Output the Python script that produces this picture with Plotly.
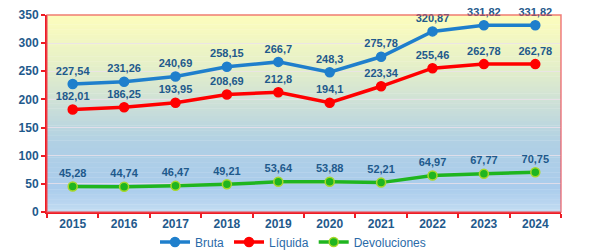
import plotly.graph_objects as go

# Data
years = ['2015', '2016', '2017', '2018', '2019', '2020', '2021', '2022', '2023', '2024']
bruta = [227.54, 231.26, 240.69, 258.15, 266.7, 248.3, 275.78, 320.87, 331.82, 331.82]
liquida = [182.01, 186.25, 193.95, 208.69, 212.8, 194.1, 223.34, 255.46, 262.78, 262.78]
devoluciones = [45.28, 44.74, 46.47, 49.21, 53.64, 53.88, 52.21, 64.97, 67.77, 70.75]


def fmt(v):
    return f"{v:g}".replace('.', ',')


LABEL_FONT = dict(family='Liberation Sans, Arial', size=11, color='#1f5a8c')

fig = go.Figure()

series = [
    ('Bruta', bruta, '#1f7fcc', '#1f7fcc'),
    ('Líquida', liquida, '#ff0000', '#ff0000'),
    ('Devoluciones', devoluciones, '#1fb51f', '#a8d82a'),
]
for name, vals, col, edge in series:
    fig.add_trace(go.Scatter(
        x=years, y=vals, name=name,
        mode='lines+markers+text',
        line=dict(color=col, width=3.5),
        marker=dict(size=9, color=col, line=dict(color=edge, width=1.5)),
        text=[fmt(v) for v in vals],
        textposition='top center',
        textfont=dict(LABEL_FONT, weight='bold'),
        cliponaxis=False,
    ))

# Gradient background of the plot area (yellow on top, blue below)
stops = [
    (0.0, (195, 220, 242)),
    (0.12, (170, 204, 236)),
    (0.35, (176, 208, 228)),
    (0.55, (205, 224, 215)),
    (0.75, (230, 240, 200)),
    (1.0, (253, 253, 188)),
]


def grad(t):
    for (t0, c0), (t1, c1) in zip(stops, stops[1:]):
        if t <= t1:
            f = (t - t0) / (t1 - t0)
            return 'rgb(%d,%d,%d)' % tuple(round(a + (b - a) * f) for a, b in zip(c0, c1))
    return 'rgb(%d,%d,%d)' % stops[-1][1]


n = 80
shapes = []
for i in range(n):
    shapes.append(dict(
        type='rect', xref='x domain', yref='y domain',
        x0=0, x1=1, y0=i / n, y1=(i + 1) / n + 0.002,
        fillcolor=grad((i + 0.5) / n), line=dict(width=0), layer='below',
    ))
# light red frame on top/right
shapes.append(dict(
    type='rect', xref='x domain', yref='y domain', x0=0, x1=1, y0=0, y1=1,
    line=dict(color='rgba(235,80,90,0.75)', width=1.5), layer='above',
))

# page body has an 8px default margin, so margins are offset accordingly
fig.update_layout(
    width=600, height=250,
    margin=dict(l=39, r=47, t=7, b=46, autoexpand=False),
    paper_bgcolor='white',
    plot_bgcolor='rgba(0,0,0,0)',
    shapes=shapes,
    showlegend=True,
    legend=dict(
        orientation='h', xref='container', x=0.475, xanchor='center',
        yref='container', y=0.064, yanchor='middle',
        font=dict(family='Liberation Sans, Arial', size=12, color='#2a6aa8'),
        itemwidth=30, tracegroupgap=0,
    ),
    xaxis=dict(
        type='category', tickson='boundaries', ticks='outside', ticklen=4,
        tickcolor='#ee1c25', tickwidth=1.5,
        showline=True, linecolor='#ee1c25', linewidth=2,
        showgrid=False, range=[-0.5, 9.5],
        tickfont=dict(family='Liberation Sans, Arial', size=12, color='#1f5a8c', weight='bold'),
    ),
    yaxis=dict(
        range=[0, 350], dtick=50, ticks='outside', ticklen=4,
        tickcolor='#ee1c25', tickwidth=1.5, ticklabeloverflow='allow',
        showline=True, linecolor='#ee1c25', linewidth=2,
        showgrid=True, gridcolor='rgba(235,225,235,0.8)', gridwidth=1.2,
        zeroline=False,
        tickfont=dict(family='Liberation Sans, Arial', size=12, color='#1f5a8c', weight='bold'),
    ),
)

fig.write_html("out.html")
